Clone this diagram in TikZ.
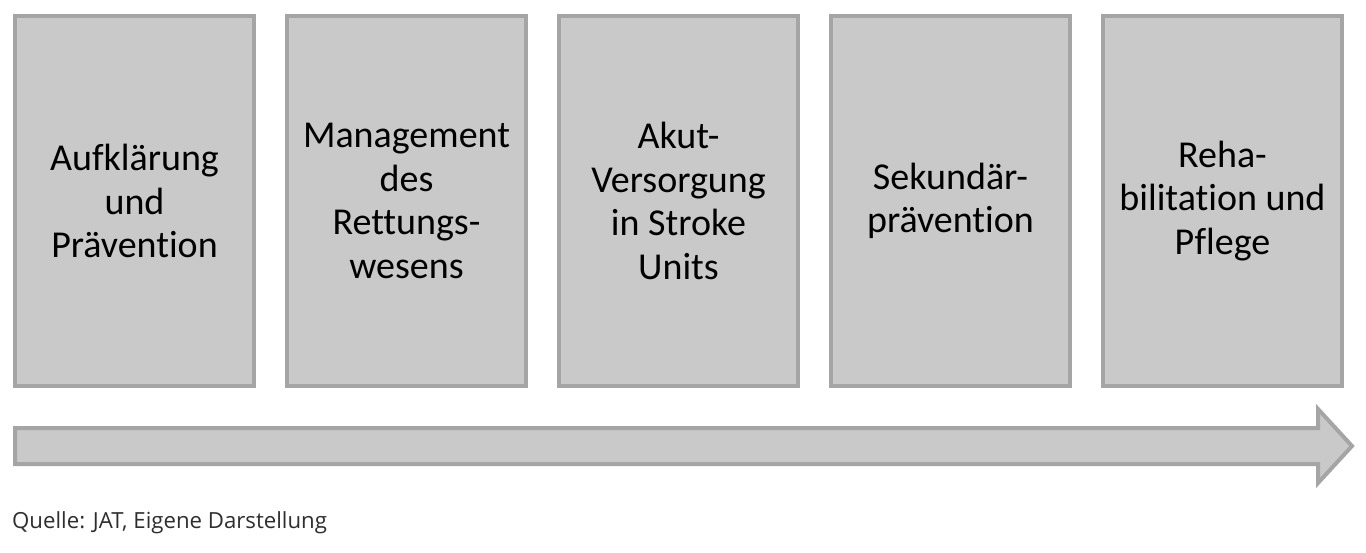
\documentclass[tikz,border=0pt]{standalone}
\usepackage{fontspec}
\setmainfont[Ligatures=NoCommon]{Carlito}
\newfontfamily\capfont{Open Sans}
\definecolor{boxfill}{HTML}{C9C9C9}
\definecolor{boxline}{HTML}{A5A5A5}
\definecolor{captext}{HTML}{2E2E2E}
\begin{document}
\begin{tikzpicture}[x=1pt,y=-1pt,
  stagebox/.style={draw=boxline, fill=boxfill, line width=4pt, minimum width=239pt, minimum height=370pt,
    inner sep=0pt, align=center, font=\fontsize{38}{43.5}\selectfont, text=black},
  arrowshape/.style={draw=boxline, fill=boxfill, line width=4pt, line join=miter}]
\useasboundingbox (0,0) rectangle (1366,552);
\node[stagebox] (s1) at (134.5,201) {Aufklärung\\und\\Prävention};
\node[stagebox] (s2) at (406.5,201) {Management\\des\\Rettungs-\\wesens};
\node[stagebox] (s3) at (678.5,201) {Akut-\\Versorgung\\in Stroke\\Units};
\node[stagebox] (s4) at (950.5,201) {Sekundär-\\prävention};
\node[stagebox] (s5) at (1222.5,201) {Reha-\\bilitation und\\Pflege};
\draw[arrowshape] (15,428) -- (1318,428) -- (1318,409) -- (1352,446) -- (1318,483) -- (1318,464) -- (15,464) -- cycle;
\node[anchor=west, inner sep=0pt, text=captext, font=\capfont\fontsize{22.2}{26}\selectfont] (cap) at (12,523) {Quelle: JAT, Eigene Darstellung};
\end{tikzpicture}
\end{document}
